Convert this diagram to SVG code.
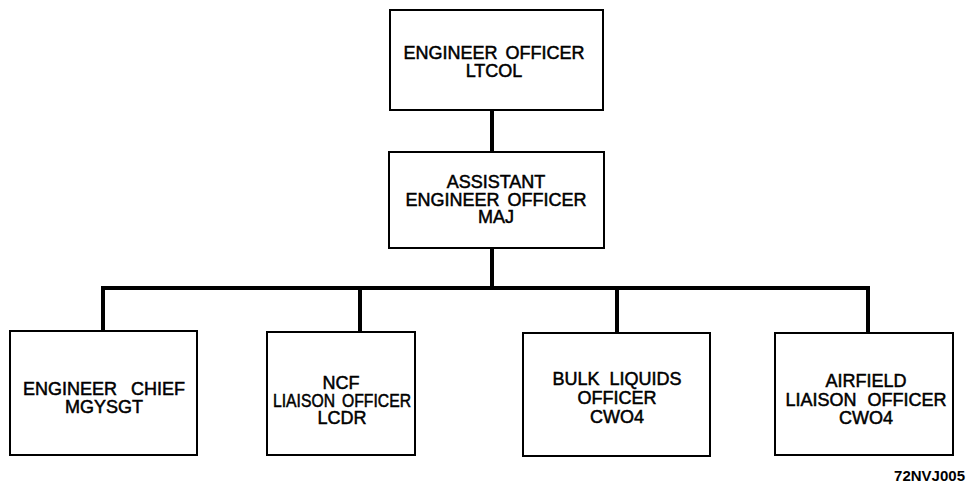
<svg xmlns="http://www.w3.org/2000/svg" width="967" height="485" viewBox="0 0 967 485">
<style>
.box{fill:#fff;stroke:#000;stroke-width:2}
.t{font-family:"Liberation Sans",Arial,sans-serif;font-size:18px;text-anchor:middle;fill:#000;stroke:#000;stroke-width:0.5;word-spacing:3px}
.c{fill:none;stroke:#000;stroke-width:4;stroke-linecap:square}
.lbl{font-family:"Liberation Sans",Arial,sans-serif;font-size:15px;font-weight:bold;text-anchor:end;fill:#000}
</style>
<rect width="967" height="485" fill="#fff"/>
<g id="connectors">
<path class="c" d="M492 110V152M492 248V288M103 288H868M103 288V331M360 288V332M617 288V333M868 288V333"/>
</g>
<g id="engineer-officer">
<rect class="box" x="390" y="10" width="213" height="100"/>
<text class="t" x="494" y="58.5">ENGINEER OFFICER</text>
<text class="t" x="494" y="77">LTCOL</text>
</g>
<g id="assistant-engineer-officer">
<rect class="box" x="389" y="152" width="215" height="96"/>
<text class="t" x="496" y="188">ASSISTANT</text>
<text class="t" x="496" y="205.5">ENGINEER OFFICER</text>
<text class="t" x="496" y="223">MAJ</text>
</g>
<g id="engineer-chief">
<rect class="box" x="10" y="331" width="187" height="124"/>
<text class="t" x="104" y="394.5" style="word-spacing:9px">ENGINEER CHIEF</text>
<text class="t" x="104" y="412.5">MGYSGT</text>
</g>
<g id="ncf-liaison-officer">
<rect class="box" x="267" y="332" width="148" height="123"/>
<text class="t" x="341" y="388.5">NCF</text>
<text class="t" x="342" y="406.5" textLength="138" lengthAdjust="spacingAndGlyphs">LIAISON OFFICER</text>
<text class="t" x="342" y="424">LCDR</text>
</g>
<g id="bulk-liquids-officer">
<rect class="box" x="523" y="333" width="187" height="123"/>
<text class="t" x="617" y="384.5" style="word-spacing:5px">BULK LIQUIDS</text>
<text class="t" x="617" y="403.5">OFFICER</text>
<text class="t" x="617" y="422.5">CWO4</text>
</g>
<g id="airfield-liaison-officer">
<rect class="box" x="775" y="333" width="178" height="122"/>
<text class="t" x="866" y="386.5">AIRFIELD</text>
<text class="t" x="866" y="405.5" style="word-spacing:6px">LIAISON OFFICER</text>
<text class="t" x="866" y="423.5">CWO4</text>
</g>
<text class="lbl" x="965" y="481">72NVJ005</text>
</svg>
